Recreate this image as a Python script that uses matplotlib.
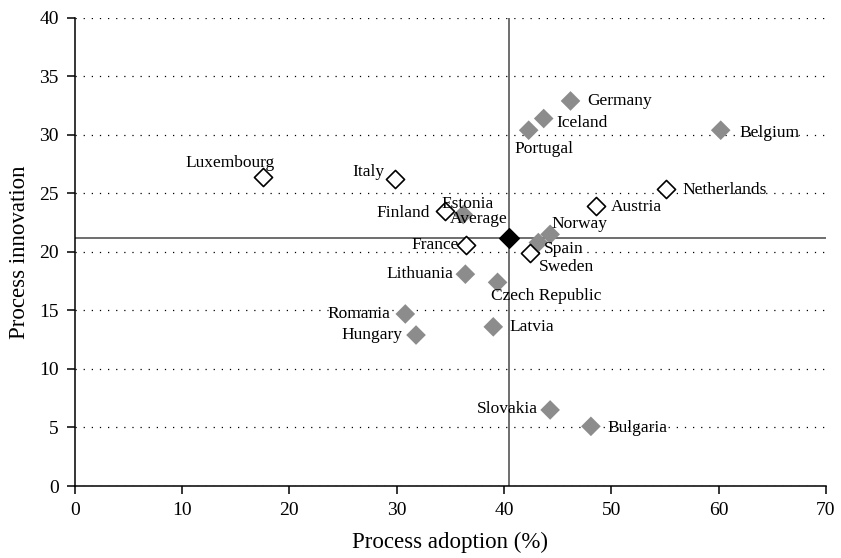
import numpy as np
import matplotlib.pyplot as plt

plt.rcParams['font.family'] = ['Liberation Serif', 'DejaVu Serif']

# countries drawn as grey filled diamonds
grey_names = ['Germany', 'Iceland', 'Portugal', 'Belgium', 'Estonia', 'Norway', 'Spain',
              'Lithuania', 'Czech Republic', 'Romania', 'Hungary', 'Latvia', 'Slovakia', 'Bulgaria']
grey_x = [46.2, 43.7, 42.3, 60.2, 36.2, 44.3, 43.2, 36.4, 39.4, 30.8, 31.8, 39.0, 44.3, 48.1]
grey_y = [32.9, 31.4, 30.4, 30.4, 23.2, 21.5, 20.8, 18.1, 17.4, 14.7, 12.9, 13.6, 6.5, 5.1]

# countries drawn as open diamonds
white_names = ['Luxembourg', 'Italy', 'Finland', 'France', 'Sweden', 'Netherlands', 'Austria']
white_x = [17.5, 29.8, 34.5, 36.5, 42.4, 55.1, 48.6]
white_y = [26.4, 26.2, 23.5, 20.6, 19.9, 25.4, 23.9]

avg_x = 40.5
avg_y = 21.2

# label placement: (dx px, dy px, ha)
offsets = {
    'Luxembourg': (12, 14, 'right'), 'Italy': (-10, 7, 'right'), 'Finland': (-15, -2, 'right'),
    'Estonia': (-22, 10, 'left'), 'Average': (-2, 19, 'right'), 'France': (-8, 0, 'right'),
    'Norway': (1, 10, 'left'), 'Spain': (6, -6, 'left'), 'Sweden': (9, -14, 'left'),
    'Lithuania': (-12, 0, 'right'), 'Czech Republic': (-7, -14, 'left'), 'Romania': (-15, 0, 'right'),
    'Hungary': (-14, 0, 'right'), 'Latvia': (16, 0, 'left'), 'Slovakia': (-12, 1, 'right'),
    'Bulgaria': (17, -2, 'left'), 'Germany': (17, 0, 'left'), 'Iceland': (13, -4, 'left'),
    'Portugal': (-14, -19, 'left'), 'Belgium': (19, -3, 'left'), 'Netherlands': (16, -1, 'left'),
    'Austria': (15, -1, 'left'),
}

fig = plt.figure(figsize=(8.41, 5.58), dpi=100)
ax = fig.add_axes([0.089, 0.129, 0.893, 0.839])

ax.axvline(avg_x, color='#555555', lw=1.2, zorder=1)
ax.axhline(avg_y, color='#555555', lw=1.2, zorder=1)

ax.scatter(grey_x, grey_y, marker='D', s=100, color='#8c8c8c', edgecolor='none', zorder=3)
ax.scatter(white_x, white_y, marker='D', s=85, facecolor='white', edgecolor='black', lw=1.2, zorder=3)
ax.scatter([avg_x], [avg_y], marker='D', s=100, color='black', zorder=4)

names = grey_names + white_names + ['Average']
xs = grey_x + white_x + [avg_x]
ys = grey_y + white_y + [avg_y]
for n, x, y in zip(names, xs, ys):
    dx, dy, ha = offsets[n]
    ax.annotate(n, (x, y), xytext=(dx, dy), textcoords='offset pixels',
                ha=ha, va='center', fontsize=12.5, zorder=5)

ax.set_xlim(0, 70)
ax.set_ylim(0, 40)
ax.set_xticks(np.arange(0, 71, 10))
ax.set_yticks(np.arange(0, 41, 5))
ax.yaxis.grid(True, color='black', linestyle=(0, (1, 5.5)), lw=0.9)
ax.set_axisbelow(True)
for s in ['top', 'right']:
    ax.spines[s].set_visible(False)
for s in ['left', 'bottom']:
    ax.spines[s].set_linewidth(1.1)
ax.tick_params(labelsize=14, direction='out', length=5.5, width=1.1, pad=6)
ax.set_xlabel('Process adoption (%)', fontsize=16.5, labelpad=9)
ax.set_ylabel('Process innovation', fontsize=16.5, labelpad=7)

fig.savefig('out.png', dpi=100)
